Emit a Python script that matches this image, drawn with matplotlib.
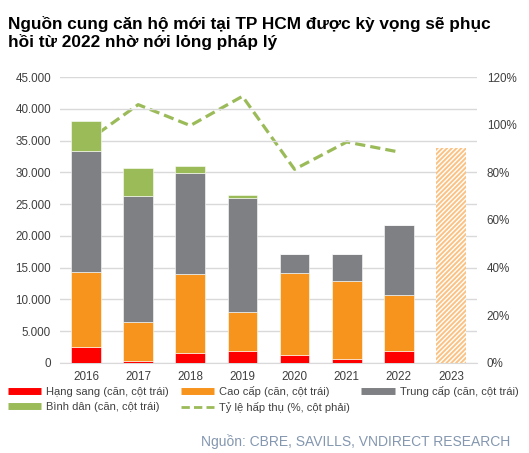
import numpy as np
import matplotlib
matplotlib.use("Agg")
import matplotlib.pyplot as plt
from matplotlib.lines import Line2D

plt.rcParams['font.family'] = ['Liberation Sans', 'DejaVu Sans']
plt.rcParams['hatch.linewidth'] = 1.4

years = ["2016", "2017", "2018", "2019", "2020", "2021", "2022", "2023"]
hang_sang = [2520, 200, 1500, 1810, 1170, 630, 1890]
cao_cap = [11780, 6200, 12410, 6150, 12980, 12250, 8830]
trung_cap = [19090, 19860, 16020, 17970, 3040, 4310, 11000]
binh_dan = [4770, 4410, 1060, 480, 0, 0, 0]
forecast_2023 = 33860
ty_le = [0.928, 1.085, 0.997, 1.12, 0.813, 0.928, 0.886]

c_red = "#FF0000"
c_orange = "#F7941D"
c_gray = "#7F8083"
c_green = "#9BBB59"
c_text = "#404040"

fig = plt.figure(figsize=(5.29, 4.53), dpi=100)
ax = fig.add_axes([0.1134, 0.1993, 0.7883, 0.6301])
ax2 = ax.twinx()

x = np.arange(len(years))
xh = x[:7]
w = 0.57

# Tỷ lệ hấp thụ line (behind bars)
ax2.plot(xh, ty_le, color=c_green, linestyle=(0, (3.2, 1.6)), linewidth=2.3)
ax2.set_ylim(0, 1.2)
ax2.set_yticks(np.arange(0, 1.21, 0.2))
ax2.set_yticklabels([f"{int(round(v * 100))}%" for v in np.arange(0, 1.21, 0.2)])

# stacked bars
bottom = np.zeros(7)
for vals, col in [(hang_sang, c_red), (cao_cap, c_orange), (trung_cap, c_gray), (binh_dan, c_green)]:
    ax.bar(xh, vals, w, bottom=bottom, color=col, edgecolor="white", linewidth=0.4, zorder=3)
    bottom += np.array(vals)

ax.bar(x[7], forecast_2023, w, color="white", edgecolor="#FBC283", hatch="///////",
       linewidth=0, zorder=3)

ax.set_zorder(ax2.get_zorder() + 1)
ax.patch.set_visible(False)

ax.set_xlim(-0.5, 7.5)
ax.set_ylim(0, 45000)
ax.set_yticks(np.arange(0, 45001, 5000))
ax.set_yticklabels([f"{v:,}".replace(",", ".") for v in range(0, 45001, 5000)])
ax.set_xticks(x)
ax.set_xticklabels(years)
ax.grid(axis="y", color="#D9D9D9", linewidth=1.0, zorder=0)
ax.set_axisbelow(True)

for a in (ax, ax2):
    for s in a.spines.values():
        s.set_visible(False)
    a.tick_params(length=0, labelsize=8.4, colors=c_text)
ax.spines["bottom"].set_visible(True)
ax.spines["bottom"].set_color("#D9D9D9")
ax.tick_params(axis="y", pad=6.5)
ax.tick_params(axis="x", pad=6)
ax2.tick_params(axis="y", pad=7)

# title
fig.text(0.015, 0.965, "Nguồn cung căn hộ mới tại TP HCM được kỳ vọng sẽ phục\nhồi từ 2022 nhờ nới lỏng pháp lý",
         fontsize=12.4, fontweight="bold", va="top", ha="left", color="black", linespacing=1.2)

# legend
handles = [
    Line2D([], [], color=c_red, linewidth=5, solid_capstyle="butt"),
    Line2D([], [], color=c_green, linewidth=5, solid_capstyle="butt"),
    Line2D([], [], color=c_orange, linewidth=5, solid_capstyle="butt"),
    Line2D([], [], color=c_green, linewidth=2, linestyle=(0, (3, 1.5))),
    Line2D([], [], color=c_gray, linewidth=5, solid_capstyle="butt"),
]
labels = ["Hạng sang (căn, cột trái)", "Bình dân (căn, cột trái)",
          "Cao cấp (căn, cột trái)", "Tỷ lệ hấp thụ (%, cột phải)",
          "Trung cấp (căn, cột trái)"]
fig.legend(handles, labels, ncol=3, loc="upper left", bbox_to_anchor=(0.015, 0.149),
           frameon=False, fontsize=8, handlelength=3.0, handletextpad=0.45,
           columnspacing=1.04, labelspacing=0.5, labelcolor=c_text, borderaxespad=0,
           borderpad=0)

fig.text(0.965, 0.0254, "Nguồn: CBRE, SAVILLS, VNDIRECT RESEARCH", fontsize=10.0,
         color="#8497B0", ha="right", va="center")

fig.savefig("out.png", dpi=100)
